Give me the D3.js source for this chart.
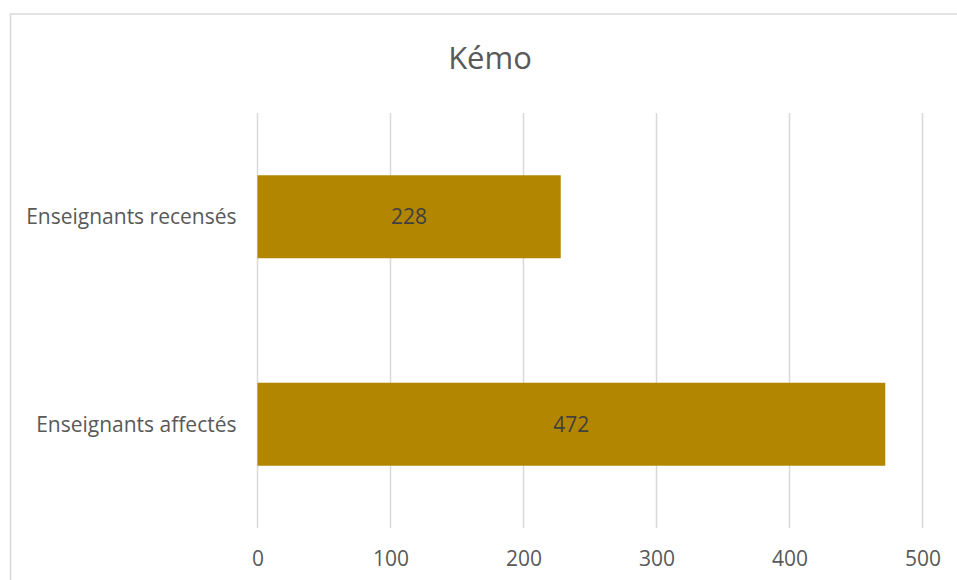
<!DOCTYPE html>
<html>
<head>
<meta charset="utf-8">
<script src="https://cdn.jsdelivr.net/npm/d3@7"></script>
<style>
  body { margin: 0; background: #fff; }
  text { font-family: "Open Sans", sans-serif; }
</style>
</head>
<body>
<svg id="chart"></svg>
<script>
// chart values
var title = "Kémo";
var categories = ["Enseignants recensés", "Enseignants affectés"];
var values = [228, 472];
var xTicks = [0, 100, 200, 300, 400, 500];

var width = 957;
var height = 580;
var margin = {"top": 113, "bottom": 52, "left": 257.5, "right": 34.5};

var svg = d3.select("svg#chart")
  .attr("width", width)
  .attr("height", height);

// outer frame of the chart area (runs off the right and bottom edge)
svg.append("rect")
  .attr("x", 10.5)
  .attr("y", 14)
  .attr("width", 1000)
  .attr("height", 1000)
  .attr("fill", "none")
  .attr("stroke", "#d9d9d9")
  .attr("stroke-width", 1.5);

svg.append("text")
  .attr("x", 490)
  .attr("y", 68.5)
  .attr("text-anchor", "middle")
  .style("font-size", "31px")
  .style("fill", "#595959")
  .text(title);

var g = svg.append("g")
  .attr("transform", "translate(" + margin.left + "," + margin.top + ")");

var innerW = width - margin.left - margin.right;

var xScale = d3.scaleLinear()
  .domain([0, 500])
  .range([0, innerW]);

var yScale = d3.scaleBand()
  .domain(categories)
  .range([0, 415])
  .paddingInner(0.6)
  .paddingOuter(0.3);

// grid lines
g.selectAll("line.gridline")
  .data(xTicks)
  .enter()
  .append("line")
  .attr("class", "gridline")
  .attr("x1", function(d) { return xScale(d); })
  .attr("x2", function(d) { return xScale(d); })
  .attr("y1", 0)
  .attr("y2", 415)
  .attr("stroke", "#d9d9d9")
  .attr("stroke-width", 1.5);

// x axis labels
var xAxis = d3.axisBottom(xScale)
  .tickValues(xTicks)
  .tickSize(0)
  .tickPadding(0);

var xg = g.append("g")
  .attr("transform", "translate(0," + 415 + ")")
  .call(xAxis);
xg.select(".domain").remove();
xg.selectAll("text")
  .attr("y", 31)
  .attr("dy", "0.35em")
  .style("font-family", "'Open Sans', sans-serif")
  .style("font-size", "21px")
  .style("fill", "#595959");

// y axis labels
var yAxis = d3.axisLeft(yScale)
  .tickSize(0)
  .tickPadding(21);

var yg = g.append("g").call(yAxis);
yg.select(".domain").remove();
yg.selectAll("text")
  .attr("dy", "0.35em")
  .style("font-family", "'Open Sans', sans-serif")
  .style("font-size", "21px")
  .style("fill", "#595959");

// bars
g.selectAll("rect.bar")
  .data(values)
  .enter()
  .append("rect")
  .attr("class", "bar")
  .attr("x", xScale(0))
  .attr("y", function(d, i) { return yScale(categories[i]); })
  .attr("width", function(d) { return xScale(d) - xScale(0); })
  .attr("height", yScale.bandwidth())
  .attr("fill", "#b38600");

// value labels in the middle of each bar
g.selectAll("text.value")
  .data(values)
  .enter()
  .append("text")
  .attr("class", "value")
  .attr("x", function(d) { return (xScale(d) + xScale(0)) / 2; })
  .attr("y", function(d, i) { return yScale(categories[i]) + yScale.bandwidth() / 2; })
  .attr("dy", "0.35em")
  .attr("text-anchor", "middle")
  .style("font-size", "21px")
  .style("fill", "#404040")
  .text(function(d) { return d; });
</script>
</body>
</html>
